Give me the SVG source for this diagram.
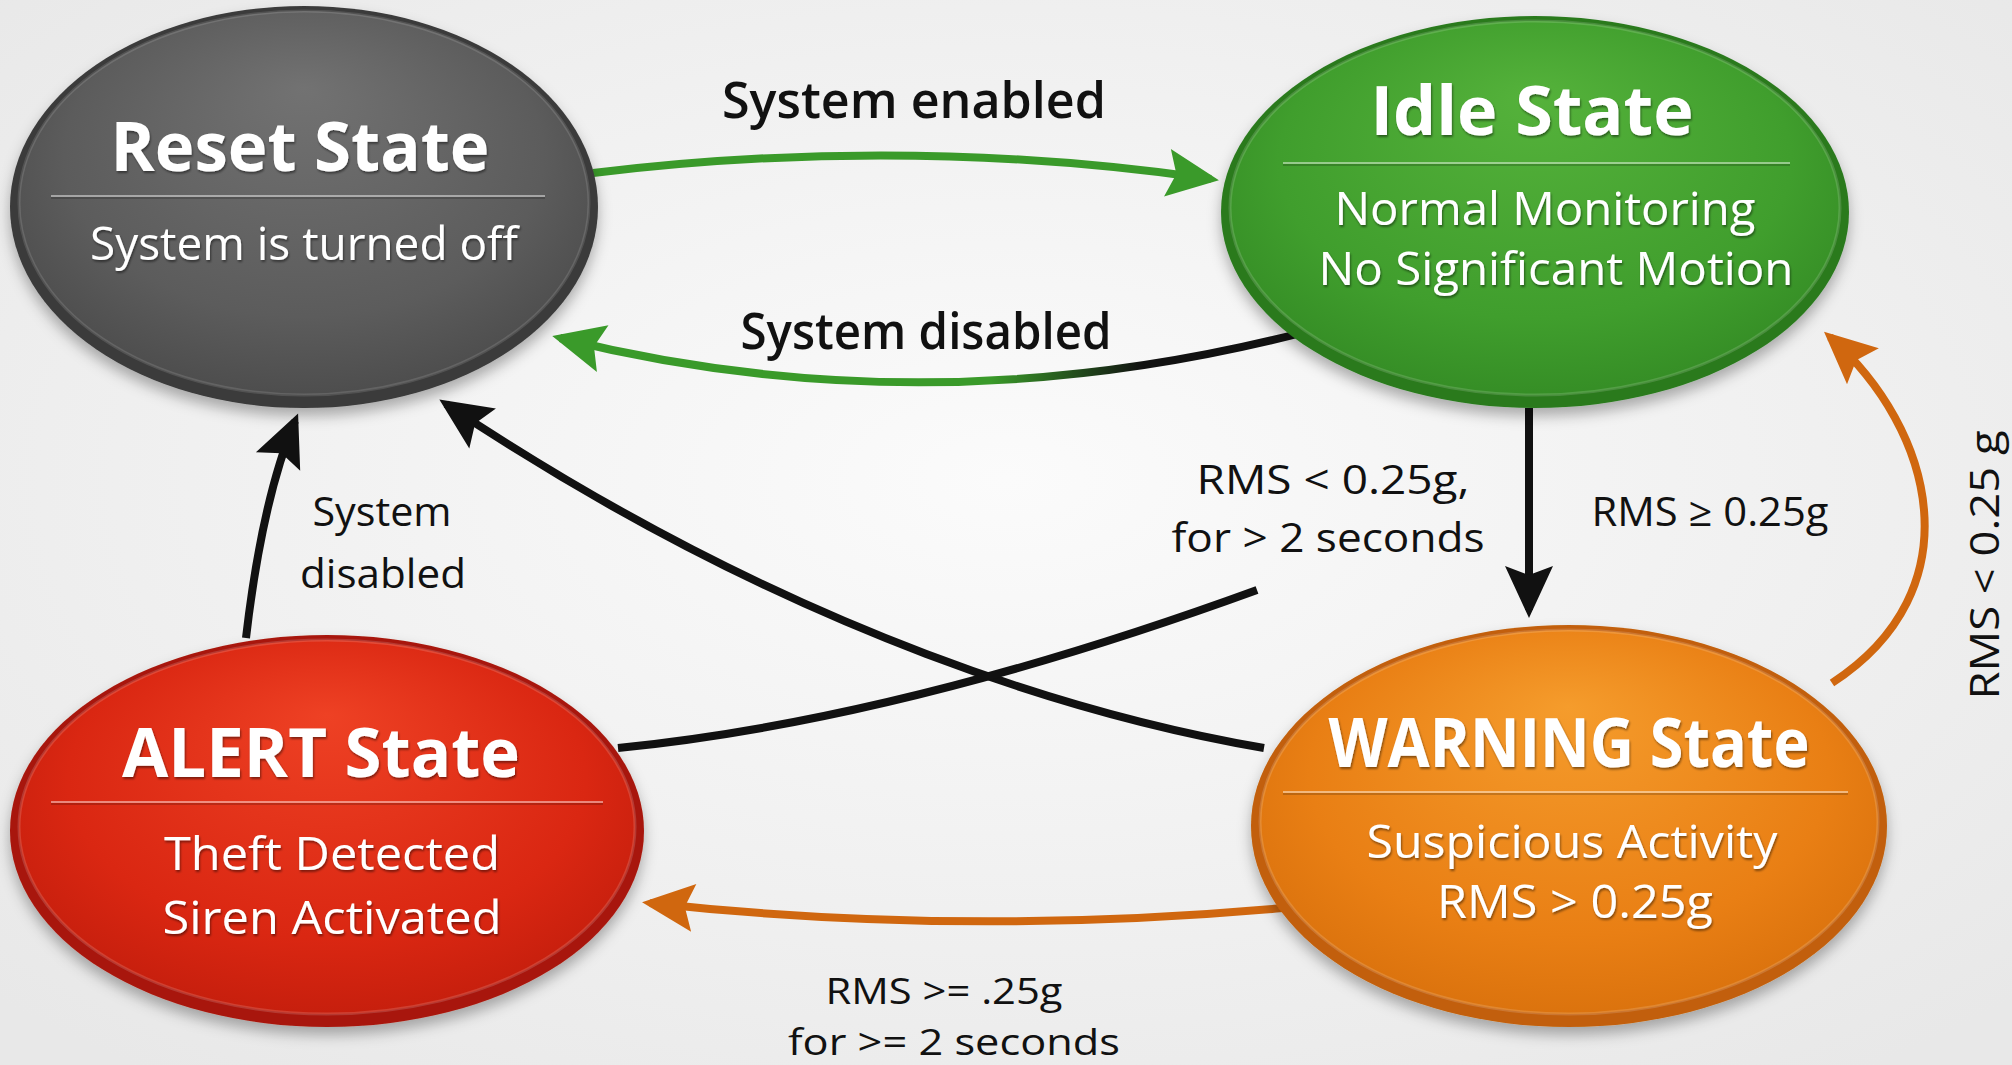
<svg xmlns="http://www.w3.org/2000/svg" width="2012" height="1065" viewBox="0 0 2012 1065">
<defs>
  <style>
    .title{font-family:"Open Sans","Liberation Sans",sans-serif;font-weight:700;font-size:68px;fill:#fff;text-anchor:middle}
    .sub{font-family:"Open Sans","Liberation Sans",sans-serif;font-weight:400;font-size:46px;fill:#fff;text-anchor:middle}
    .lbl{font-family:"Open Sans","Liberation Sans",sans-serif;font-weight:400;font-size:40px;fill:#111;text-anchor:middle}
    .lbls{font-family:"Open Sans","Liberation Sans",sans-serif;font-weight:400;font-size:37px;fill:#111;text-anchor:middle}
    .lblb{font-family:"Open Sans","Liberation Sans",sans-serif;font-weight:600;font-size:50px;fill:#111;text-anchor:middle}
    .edge{fill:none;stroke-width:8}
    .sepl{stroke:#fff;stroke-opacity:0.45;stroke-width:2}
    .sepd{stroke:#000;stroke-opacity:0.18;stroke-width:2}
  </style>
  <radialGradient id="bg" cx="50%" cy="45%" r="70%">
    <stop offset="0" stop-color="#fbfbfb"/><stop offset="1" stop-color="#e8e8e8"/>
  </radialGradient>
  <radialGradient id="fGray" cx="50%" cy="45%" r="60%" fx="50%" fy="20%">
    <stop offset="0" stop-color="#727272"/><stop offset="0.7" stop-color="#5c5c5c"/><stop offset="1" stop-color="#4a4a4a"/>
  </radialGradient>
  <radialGradient id="fGreen" cx="50%" cy="45%" r="60%" fx="50%" fy="20%">
    <stop offset="0" stop-color="#55b23b"/><stop offset="0.7" stop-color="#409e2d"/><stop offset="1" stop-color="#338a24"/>
  </radialGradient>
  <radialGradient id="fRed" cx="50%" cy="45%" r="60%" fx="50%" fy="20%">
    <stop offset="0" stop-color="#ee4124"/><stop offset="0.7" stop-color="#da2712"/><stop offset="1" stop-color="#c21d0c"/>
  </radialGradient>
  <radialGradient id="fOrange" cx="50%" cy="45%" r="60%" fx="50%" fy="20%">
    <stop offset="0" stop-color="#f59c2c"/><stop offset="0.7" stop-color="#e97f14"/><stop offset="1" stop-color="#d8700c"/>
  </radialGradient>
  <linearGradient id="disGrad" gradientUnits="userSpaceOnUse" x1="1309" y1="0" x2="552" y2="0">
    <stop offset="0" stop-color="#111"/><stop offset="0.22" stop-color="#111"/>
    <stop offset="0.42" stop-color="#3a9a2a"/><stop offset="1" stop-color="#3a9a2a"/>
  </linearGradient>
  <filter id="shadow" x="-10%" y="-10%" width="120%" height="130%">
    <feDropShadow dx="0" dy="8" stdDeviation="7" flood-color="#000" flood-opacity="0.3"/>
  </filter>
  <filter id="ts" x="-5%" y="-20%" width="110%" height="140%">
    <feDropShadow dx="1" dy="2" stdDeviation="1.2" flood-color="#000" flood-opacity="0.45"/>
  </filter>
  <marker id="hGreen" viewBox="-46 -26 56 52" refX="0" refY="0" markerWidth="56" markerHeight="52" markerUnits="userSpaceOnUse" orient="auto">
    <path d="M8,0 L-44,-24 L-35,0 L-44,24 Z" fill="#3a9a2a"/>
  </marker>
  <marker id="hBlack" viewBox="-46 -26 56 52" refX="0" refY="0" markerWidth="56" markerHeight="52" markerUnits="userSpaceOnUse" orient="auto">
    <path d="M8,0 L-44,-24 L-35,0 L-44,24 Z" fill="#111"/>
  </marker>
  <marker id="hOrange" viewBox="-46 -26 56 52" refX="0" refY="0" markerWidth="56" markerHeight="52" markerUnits="userSpaceOnUse" orient="auto">
    <path d="M8,0 L-44,-24 L-35,0 L-44,24 Z" fill="#d0670f"/>
  </marker>
</defs>

<rect x="0" y="0" width="2012" height="1065" fill="url(#bg)"/>

<g id="connectors">
  <path class="edge" stroke="#3a9a2a" d="M593 173 Q905 135 1211 179" marker-end="url(#hGreen)"/>
  <path class="edge" stroke="url(#disGrad)" d="M1309 331 Q930 430 560 338" marker-end="url(#hGreen)"/>
  <path class="edge" stroke="#111" d="M1529 408 L1529 610" marker-end="url(#hBlack)"/>
  <path class="edge" stroke="#d0670f" d="M1832 683 C1975 590 1935 430 1830 337" marker-end="url(#hOrange)"/>
  <path class="edge" stroke="#111" d="M246 638 Q262 500 295 421" marker-end="url(#hBlack)"/>
  <path class="edge" stroke="#111" d="M1264 748 C1100 720 800 640 446 404" marker-end="url(#hBlack)"/>
  <path class="edge" stroke="#111" d="M618 748 Q900 720 1257 590"/>
  <path class="edge" stroke="#d0670f" d="M1283 908 Q960 937 650 903" marker-end="url(#hOrange)"/>
</g>

<g id="labels">
  <text class="lblb" x="914" y="118" textLength="384" lengthAdjust="spacingAndGlyphs">System enabled</text>
  <text class="lblb" x="926" y="349" textLength="371" lengthAdjust="spacingAndGlyphs">System disabled</text>
  <text class="lbl" x="382" y="526" textLength="139" lengthAdjust="spacingAndGlyphs">System</text>
  <text class="lbl" x="383" y="588" textLength="166" lengthAdjust="spacingAndGlyphs">disabled</text>
  <text class="lbl" x="1333" y="494" textLength="273" lengthAdjust="spacingAndGlyphs">RMS &lt; 0.25g,</text>
  <text class="lbl" x="1328" y="552" textLength="313" lengthAdjust="spacingAndGlyphs">for &gt; 2 seconds</text>
  <text class="lbl" x="1710" y="526" textLength="237" lengthAdjust="spacingAndGlyphs">RMS ≥ 0.25g</text>
  <text class="lbls" x="944" y="1004" textLength="237" lengthAdjust="spacingAndGlyphs">RMS &gt;= .25g</text>
  <text class="lbls" x="954" y="1055" textLength="332" lengthAdjust="spacingAndGlyphs">for &gt;= 2 seconds</text>
  <text class="lbl" transform="translate(1999 565) rotate(-90)" x="0" y="0" textLength="269" lengthAdjust="spacingAndGlyphs">RMS &lt; 0.25 g</text>
</g>

<g id="reset">
  <ellipse cx="304" cy="207" rx="294" ry="201" fill="#3b3b3b" filter="url(#shadow)"/>
  <ellipse cx="304" cy="203" rx="285" ry="192" fill="url(#fGray)"/>
  <ellipse cx="304" cy="203" rx="285" ry="192" fill="none" stroke="#fff" stroke-opacity="0.12" stroke-width="3"/>
  <line class="sepl" x1="51" y1="196" x2="545" y2="196"/>
  <line class="sepd" x1="51" y1="198" x2="545" y2="198"/>
  <text class="title" x="300" y="171" textLength="379" lengthAdjust="spacingAndGlyphs" filter="url(#ts)">Reset State</text>
  <text class="sub" x="304" y="260" textLength="428" lengthAdjust="spacingAndGlyphs" filter="url(#ts)">System is turned off</text>
</g>

<g id="idle">
  <ellipse cx="1535" cy="212" rx="314" ry="196" fill="#2a7a1f" filter="url(#shadow)"/>
  <ellipse cx="1535" cy="208" rx="305" ry="187" fill="url(#fGreen)"/>
  <ellipse cx="1535" cy="208" rx="305" ry="187" fill="none" stroke="#fff" stroke-opacity="0.15" stroke-width="3"/>
  <line class="sepl" x1="1283" y1="163" x2="1790" y2="163"/>
  <line class="sepd" x1="1283" y1="165" x2="1790" y2="165"/>
  <text class="title" x="1532" y="135" textLength="323" lengthAdjust="spacingAndGlyphs" filter="url(#ts)">Idle State</text>
  <text class="sub" x="1545" y="225" textLength="421" lengthAdjust="spacingAndGlyphs" filter="url(#ts)">Normal Monitoring</text>
  <text class="sub" x="1556" y="285" textLength="475" lengthAdjust="spacingAndGlyphs" filter="url(#ts)">No Significant Motion</text>
</g>

<g id="alert">
  <ellipse cx="327" cy="831" rx="317" ry="196" fill="#a8170a" filter="url(#shadow)"/>
  <ellipse cx="327" cy="827" rx="308" ry="187" fill="url(#fRed)"/>
  <ellipse cx="327" cy="827" rx="308" ry="187" fill="none" stroke="#fff" stroke-opacity="0.15" stroke-width="3"/>
  <line class="sepl" x1="51" y1="802" x2="603" y2="802"/>
  <line class="sepd" x1="51" y1="804" x2="603" y2="804"/>
  <text class="title" x="321" y="777" textLength="398" lengthAdjust="spacingAndGlyphs" filter="url(#ts)">ALERT State</text>
  <text class="sub" x="332" y="870" textLength="336" lengthAdjust="spacingAndGlyphs" filter="url(#ts)">Theft Detected</text>
  <text class="sub" x="332" y="934" textLength="339" lengthAdjust="spacingAndGlyphs" filter="url(#ts)">Siren Activated</text>
</g>

<g id="warning">
  <ellipse cx="1569" cy="826" rx="318" ry="201" fill="#c25f08" filter="url(#shadow)"/>
  <ellipse cx="1569" cy="822" rx="309" ry="192" fill="url(#fOrange)"/>
  <ellipse cx="1569" cy="822" rx="309" ry="192" fill="none" stroke="#fff" stroke-opacity="0.15" stroke-width="3"/>
  <line class="sepl" x1="1283" y1="792" x2="1848" y2="792"/>
  <line class="sepd" x1="1283" y1="794" x2="1848" y2="794"/>
  <text class="title" x="1569" y="767" textLength="481" lengthAdjust="spacingAndGlyphs" filter="url(#ts)">WARNING State</text>
  <text class="sub" x="1572" y="858" textLength="411" lengthAdjust="spacingAndGlyphs" filter="url(#ts)">Suspicious Activity</text>
  <text class="sub" x="1575" y="918" textLength="276" lengthAdjust="spacingAndGlyphs" filter="url(#ts)">RMS &gt; 0.25g</text>
</g>
</svg>
